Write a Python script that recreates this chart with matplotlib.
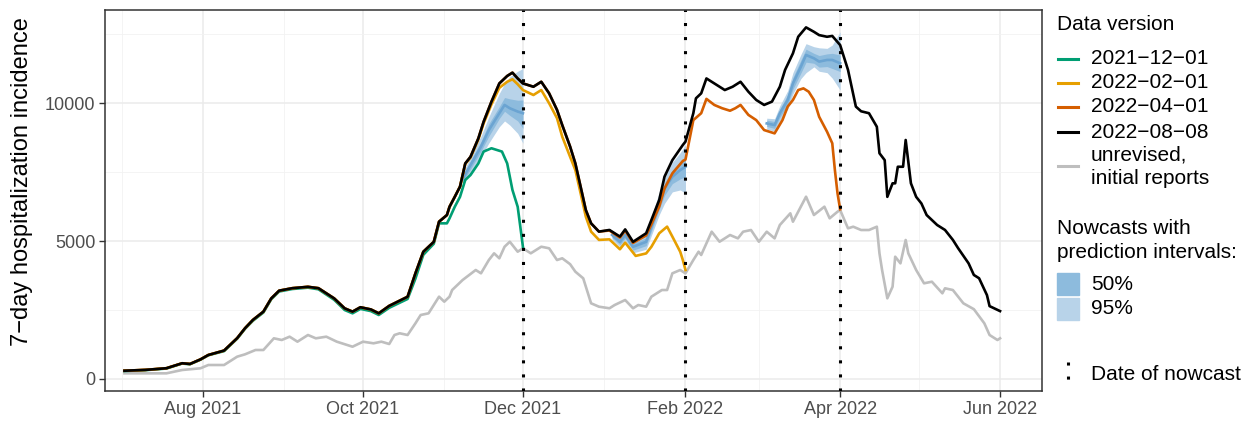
import numpy as np
import pandas as pd
import matplotlib
matplotlib.use("Agg")
import matplotlib.pyplot as plt
import matplotlib.dates as mdates
from matplotlib.lines import Line2D
from matplotlib.patches import Rectangle

plt.rcParams['font.family'] = ['Liberation Sans', 'DejaVu Sans']

# data version 2022-08-08 (final)
final_dates = ["2021-07-02", "2021-07-10", "2021-07-18", "2021-07-24", "2021-07-27", "2021-07-31",
               "2021-08-03", "2021-08-09", "2021-08-14", "2021-08-17", "2021-08-20", "2021-08-24",
               "2021-08-27", "2021-08-30", "2021-09-04", "2021-09-10", "2021-09-14", "2021-09-20",
               "2021-09-24", "2021-09-27", "2021-09-30", "2021-10-04", "2021-10-07", "2021-10-11",
               "2021-10-18", "2021-10-21", "2021-10-24", "2021-10-28", "2021-10-30", "2021-11-02",
               "2021-11-03", "2021-11-05", "2021-11-07", "2021-11-09", "2021-11-11", "2021-11-14",
               "2021-11-16", "2021-11-19", "2021-11-22", "2021-11-25", "2021-11-27", "2021-11-29",
               "2021-12-01", "2021-12-05", "2021-12-08", "2021-12-11", "2021-12-14", "2021-12-16",
               "2021-12-19", "2021-12-21", "2021-12-23", "2021-12-25", "2021-12-27", "2021-12-30",
               "2022-01-03", "2022-01-07", "2022-01-09", "2022-01-12", "2022-01-17", "2022-01-19",
               "2022-01-22", "2022-01-24", "2022-01-27", "2022-01-31", "2022-02-01", "2022-02-04",
               "2022-02-05", "2022-02-07", "2022-02-09", "2022-02-12", "2022-02-16", "2022-02-19",
               "2022-02-22", "2022-02-25", "2022-02-28", "2022-03-03", "2022-03-06", "2022-03-09",
               "2022-03-11", "2022-03-14", "2022-03-16", "2022-03-19", "2022-03-22", "2022-03-24",
               "2022-03-27", "2022-03-29", "2022-04-01", "2022-04-04", "2022-04-07", "2022-04-09",
               "2022-04-12", "2022-04-15", "2022-04-16", "2022-04-18", "2022-04-19", "2022-04-21",
               "2022-04-22", "2022-04-23", "2022-04-25", "2022-04-26", "2022-04-28", "2022-04-30",
               "2022-05-02", "2022-05-04", "2022-05-08", "2022-05-11", "2022-05-14", "2022-05-16",
               "2022-05-20", "2022-05-22", "2022-05-24", "2022-05-27", "2022-05-28", "2022-06-01"]
final_vals = [300, 330, 390, 570, 545, 710,
              870, 1030, 1480, 1840, 2140, 2440,
              2920, 3200, 3290, 3340, 3290, 2920,
              2560, 2440, 2600, 2520, 2380, 2650,
              2980, 3830, 4610, 4970, 5700, 5940,
              6240, 6600, 6970, 7810, 8050, 8720,
              9320, 10050, 10710, 10980, 11100, 10890,
              10710, 10590, 10770, 10350, 9750, 9200,
              8420, 7810, 6970, 6120, 5640, 5340,
              5400, 5160, 5420, 4970, 5280, 5760,
              6490, 7330, 7930, 8480, 8600, 9630,
              10170, 10350, 10890, 10710, 10470, 10590,
              10770, 10410, 10110, 9930, 10050, 10590,
              11200, 11800, 12400, 12740, 12580, 12460,
              12400, 12430, 12100, 11200, 9870, 9700,
              9630, 9140, 8180, 7930, 6600, 7090,
              7090, 7690, 7690, 8660, 7090, 6600,
              6360, 5940, 5580, 5400, 5040, 4740,
              4190, 3770, 3650, 3040, 2640, 2460]

# data version 2021-12-01
v1201_dates = ["2021-07-02", "2021-07-10", "2021-07-18", "2021-07-24", "2021-07-27", "2021-07-31",
               "2021-08-03", "2021-08-09", "2021-08-14", "2021-08-17", "2021-08-20", "2021-08-24",
               "2021-08-27", "2021-08-30", "2021-09-04", "2021-09-10", "2021-09-14", "2021-09-20",
               "2021-09-24", "2021-09-27", "2021-09-30", "2021-10-04", "2021-10-07", "2021-10-11",
               "2021-10-18", "2021-10-21", "2021-10-24", "2021-10-28", "2021-10-30", "2021-11-02",
               "2021-11-03", "2021-11-05", "2021-11-07", "2021-11-09", "2021-11-11", "2021-11-14",
               "2021-11-16", "2021-11-19", "2021-11-22", "2021-11-23", "2021-11-25", "2021-11-27",
               "2021-11-29", "2021-11-30", "2021-12-01"]
v1201_vals = [290, 320, 380, 560, 535, 700,
              860, 1010, 1460, 1820, 2110, 2410,
              2890, 3170, 3260, 3310, 3250, 2870,
              2500, 2380, 2540, 2460, 2320, 2580,
              2900, 3640, 4500, 4900, 5640, 5640,
              5820, 6240, 6600, 7210, 7390, 7810,
              8240, 8360, 8270, 8240, 7810, 6850,
              6240, 5520, 4790]

# data version 2022-02-01
v0201_dates = ["2021-07-02", "2021-07-10", "2021-07-18", "2021-07-24", "2021-07-27", "2021-07-31",
               "2021-08-03", "2021-08-09", "2021-08-14", "2021-08-17", "2021-08-20", "2021-08-24",
               "2021-08-27", "2021-08-30", "2021-09-04", "2021-09-10", "2021-09-14", "2021-09-20",
               "2021-09-24", "2021-09-27", "2021-09-30", "2021-10-04", "2021-10-07", "2021-10-11",
               "2021-10-18", "2021-10-21", "2021-10-24", "2021-10-28", "2021-10-30", "2021-11-02",
               "2021-11-03", "2021-11-05", "2021-11-07", "2021-11-09", "2021-11-11", "2021-11-14",
               "2021-11-16", "2021-11-19", "2021-11-22", "2021-11-25", "2021-11-27", "2021-11-29",
               "2021-12-01", "2021-12-05", "2021-12-08", "2021-12-11", "2021-12-14", "2021-12-16",
               "2021-12-19", "2021-12-21", "2021-12-23", "2021-12-25", "2021-12-27", "2021-12-30",
               "2022-01-03", "2022-01-07", "2022-01-09", "2022-01-13", "2022-01-17", "2022-01-19",
               "2022-01-22", "2022-01-25", "2022-01-27", "2022-01-30", "2022-01-31", "2022-02-01"]
v0201_vals = [300, 330, 390, 570, 545, 710,
              870, 1030, 1480, 1840, 2140, 2440,
              2920, 3200, 3290, 3340, 3290, 2920,
              2560, 2440, 2600, 2520, 2380, 2650,
              2980, 3830, 4610, 4970, 5700, 5940,
              6240, 6600, 6970, 7790, 8020, 8680,
              9260, 9950, 10550, 10770, 10860, 10680,
              10470, 10290, 10470, 9990, 9450, 8780,
              8050, 7570, 6730, 5880, 5340, 5040,
              5060, 4700, 4940, 4460, 4550, 4790,
              5280, 5520, 5160, 4610, 4310, 3950]

# data version 2022-04-01
v0401_dates = ["2021-07-02", "2021-07-10", "2021-07-18", "2021-07-24", "2021-07-27", "2021-07-31",
               "2021-08-03", "2021-08-09", "2021-08-14", "2021-08-17", "2021-08-20", "2021-08-24",
               "2021-08-27", "2021-08-30", "2021-09-04", "2021-09-10", "2021-09-14", "2021-09-20",
               "2021-09-24", "2021-09-27", "2021-09-30", "2021-10-04", "2021-10-07", "2021-10-11",
               "2021-10-18", "2021-10-21", "2021-10-24", "2021-10-28", "2021-10-30", "2021-11-02",
               "2021-11-03", "2021-11-05", "2021-11-07", "2021-11-09", "2021-11-11", "2021-11-14",
               "2021-11-16", "2021-11-19", "2021-11-22", "2021-11-25", "2021-11-27", "2021-11-29",
               "2021-12-01", "2021-12-05", "2021-12-08", "2021-12-11", "2021-12-14", "2021-12-16",
               "2021-12-19", "2021-12-21", "2021-12-23", "2021-12-25", "2021-12-27", "2021-12-30",
               "2022-01-03", "2022-01-07", "2022-01-09", "2022-01-12", "2022-01-17", "2022-01-19",
               "2022-01-22", "2022-01-24", "2022-01-27", "2022-01-31", "2022-02-01", "2022-02-02",
               "2022-02-04", "2022-02-07", "2022-02-09", "2022-02-12", "2022-02-15", "2022-02-18",
               "2022-02-20", "2022-02-22", "2022-02-25", "2022-02-28", "2022-03-03", "2022-03-05",
               "2022-03-07", "2022-03-10", "2022-03-12", "2022-03-14", "2022-03-16", "2022-03-18",
               "2022-03-20", "2022-03-22", "2022-03-24", "2022-03-27", "2022-03-29", "2022-03-30",
               "2022-03-31", "2022-04-01"]
v0401_vals = [300, 330, 390, 570, 545, 710,
              870, 1030, 1480, 1840, 2140, 2440,
              2920, 3200, 3290, 3340, 3290, 2920,
              2560, 2440, 2600, 2520, 2380, 2650,
              2980, 3830, 4610, 4970, 5700, 5940,
              6240, 6600, 6970, 7810, 8050, 8720,
              9320, 10050, 10710, 10980, 11100, 10890,
              10710, 10590, 10770, 10350, 9750, 9200,
              8420, 7810, 6970, 6120, 5640, 5340,
              5380, 5120, 5380, 4930, 5200, 5600,
              6250, 6900, 7450, 7900, 7950, 8420,
              9380, 9630, 10150, 9930, 9810, 9720,
              9810, 9930, 9570, 9380, 9020, 8960,
              8900, 9380, 9870, 10110, 10470, 10530,
              10410, 10110, 9500, 8960, 8540, 7570,
              6730, 6150]

# unrevised, initial reports
init_dates = ["2021-07-02", "2021-07-18", "2021-07-24", "2021-07-31", "2021-08-03", "2021-08-09",
              "2021-08-14", "2021-08-17", "2021-08-21", "2021-08-24", "2021-08-28", "2021-08-31",
              "2021-09-03", "2021-09-06", "2021-09-10", "2021-09-13", "2021-09-17", "2021-09-21",
              "2021-09-27", "2021-10-01", "2021-10-05", "2021-10-08", "2021-10-11", "2021-10-13",
              "2021-10-15", "2021-10-18", "2021-10-21", "2021-10-23", "2021-10-26", "2021-10-30",
              "2021-11-01", "2021-11-03", "2021-11-04", "2021-11-08", "2021-11-13", "2021-11-15",
              "2021-11-18", "2021-11-20", "2021-11-22", "2021-11-24", "2021-11-26", "2021-11-29",
              "2021-12-01", "2021-12-04", "2021-12-06", "2021-12-08", "2021-12-11", "2021-12-14",
              "2021-12-16", "2021-12-19", "2021-12-21", "2021-12-24", "2021-12-27", "2021-12-30",
              "2022-01-03", "2022-01-05", "2022-01-09", "2022-01-12", "2022-01-14", "2022-01-17",
              "2022-01-19", "2022-01-23", "2022-01-25", "2022-01-27", "2022-01-30", "2022-02-01",
              "2022-02-04", "2022-02-06", "2022-02-07", "2022-02-11", "2022-02-14", "2022-02-18",
              "2022-02-21", "2022-02-23", "2022-02-26", "2022-03-01", "2022-03-04", "2022-03-07",
              "2022-03-09", "2022-03-13", "2022-03-14", "2022-03-19", "2022-03-22", "2022-03-26",
              "2022-03-28", "2022-03-31", "2022-04-01", "2022-04-04", "2022-04-06", "2022-04-09",
              "2022-04-12", "2022-04-15", "2022-04-16", "2022-04-17", "2022-04-19", "2022-04-21",
              "2022-04-22", "2022-04-24", "2022-04-26", "2022-04-27", "2022-04-30", "2022-05-03",
              "2022-05-06", "2022-05-10", "2022-05-11", "2022-05-14", "2022-05-18", "2022-05-22",
              "2022-05-26", "2022-05-28", "2022-05-31", "2022-06-01"]
init_vals = [205, 205, 326, 388, 507, 507,
             809, 894, 1051, 1051, 1474, 1413,
             1533, 1352, 1594, 1474, 1533, 1352,
             1170, 1352, 1293, 1352, 1268, 1594,
             1656, 1594, 2018, 2319, 2380, 2982,
             2801, 2982, 3224, 3587, 3949, 3829,
             4311, 4554, 4373, 4793, 4974, 4612,
             4735, 4554, 4674, 4793, 4735, 4311,
             4373, 4160, 3888, 3648, 2743, 2620,
             2562, 2681, 2862, 2562, 2681, 2620,
             2982, 3224, 3224, 3829, 3949, 3829,
             4311, 4612, 4493, 5337, 4974, 5217,
             5096, 5337, 5398, 4974, 5337, 5096,
             5580, 6003, 5699, 6605, 5942, 6243,
             5822, 6061, 6123, 5459, 5518, 5398,
             5398, 5518, 4554, 3949, 2924, 3344,
             4431, 4190, 5036, 4554, 3949, 3467,
             3525, 3105, 3286, 3224, 2743, 2530,
             2018, 1594, 1413, 1474]

# nowcast made on 2021-12-01
nc1_dates = ["2021-11-08", "2021-11-11", "2021-11-15", "2021-11-18", "2021-11-22",
             "2021-11-24", "2021-11-26", "2021-11-29", "2021-12-01"]
nc1_med = [7250, 7750, 8420, 9020, 9630, 9930, 9810, 9690, 9630]
nc1_lo50 = [7150, 7600, 8250, 8800, 9440, 9700, 9550, 9350, 9080]
nc1_hi50 = [7350, 7900, 8600, 9250, 9870, 10200, 10150, 10100, 10110]
nc1_lo95 = [7050, 7450, 8050, 8550, 9140, 9350, 9200, 8900, 8540]
nc1_hi95 = [7450, 8050, 8800, 9500, 10350, 10700, 10950, 11150, 11250]

# nowcast made on 2022-02-01
nc2_dates = ["2022-01-04", "2022-01-07", "2022-01-09", "2022-01-12", "2022-01-17", "2022-01-19",
             "2022-01-22", "2022-01-24", "2022-01-27", "2022-01-30", "2022-02-01"]
nc2_med = [5220, 4970, 5220, 4790, 4970, 5520, 6360, 6900, 7330, 7570, 7690]
nc2_lo50 = [5120, 4870, 5100, 4670, 4830, 5350, 6150, 6650, 7080, 7250, 7330]
nc2_hi50 = [5320, 5080, 5330, 4920, 5120, 5700, 6580, 7100, 7570, 7870, 7930]
nc2_lo95 = [5050, 4780, 5020, 4570, 4700, 5200, 5950, 6360, 6780, 6850, 6730]
nc2_hi95 = [5400, 5160, 5420, 5030, 5250, 5850, 6780, 7300, 7850, 8200, 8480]

# nowcast made on 2022-04-01
nc3_dates = ["2022-03-04", "2022-03-07", "2022-03-09", "2022-03-12", "2022-03-14", "2022-03-17",
             "2022-03-19", "2022-03-22", "2022-03-24", "2022-03-27", "2022-03-29", "2022-04-01"]
nc3_med = [9260, 9200, 9630, 10110, 10710, 11310, 11740, 11620, 11500, 11560, 11560, 11440]
nc3_lo50 = [9150, 9080, 9480, 9930, 10500, 11080, 11480, 11440, 11300, 11320, 11250, 11140]
nc3_hi50 = [9380, 9330, 9780, 10300, 10920, 11550, 11950, 11800, 11720, 11780, 11800, 11740]
nc3_lo95 = [9050, 8980, 9350, 9780, 10330, 10880, 11100, 11310, 11150, 11100, 10900, 10470]
nc3_hi95 = [9450, 9430, 9900, 10450, 11100, 11750, 12150, 12040, 12000, 11980, 12100, 12580]

nowcast_days = ["2021-12-01", "2022-02-01", "2022-04-01"]

version_labels = ["2021\u221212\u221201", "2022\u221202\u221201", "2022\u221204\u221201",
                  "2022\u221208\u221208", "unrevised,\ninitial reports"]
version_colors = ["#009E73", "#E69F00", "#D55E00", "black", "#BEBEBE"]

col50 = "#8DBBDD"
col95 = "#B8D3E9"
colmed = "#6BA4D2"

LW = 1.9
W, H = 1246, 424
fig = plt.figure(figsize=(W / 100, H / 100), dpi=100)
ax = fig.add_axes([105 / W, 1 - 391 / H, (1042 - 105) / W, (391 - 10) / H])

d = pd.to_datetime

ax.plot(d(init_dates), init_vals, color=version_colors[4], lw=LW, zorder=2)

for nd, med, lo50, hi50, lo95, hi95 in [
        (nc1_dates, nc1_med, nc1_lo50, nc1_hi50, nc1_lo95, nc1_hi95),
        (nc2_dates, nc2_med, nc2_lo50, nc2_hi50, nc2_lo95, nc2_hi95),
        (nc3_dates, nc3_med, nc3_lo50, nc3_hi50, nc3_lo95, nc3_hi95)]:
    ax.fill_between(d(nd), lo95, hi95, color=col95, lw=0, zorder=3)
    ax.fill_between(d(nd), lo50, hi50, color=col50, lw=0, zorder=3)
    ax.plot(d(nd), med, color=colmed, lw=LW, zorder=3)

ax.plot(d(v1201_dates), v1201_vals, color=version_colors[0], lw=LW, zorder=4)
ax.plot(d(v0201_dates), v0201_vals, color=version_colors[1], lw=LW, zorder=4)
ax.plot(d(v0401_dates), v0401_vals, color=version_colors[2], lw=LW, zorder=4)
ax.plot(d(final_dates), final_vals, color=version_colors[3], lw=LW, zorder=5)

for nd in nowcast_days:
    ax.axvline(d(nd), color="black", lw=2.2, linestyle=(0, (1, 3.6)), zorder=6)

ax.set_xlim(mdates.date2num(d("2021-06-24 14:00")), mdates.date2num(d("2022-06-17")))
ax.set_ylim(-435, 13370)

major_x = d(["2021-08-01", "2021-10-01", "2021-12-01", "2022-02-01", "2022-04-01", "2022-06-01"])
minor_x = d(["2021-07-01", "2021-09-01", "2021-11-01", "2022-01-01", "2022-03-01", "2022-05-01"])
ax.set_xticks(major_x)
ax.set_xticklabels(["Aug 2021", "Oct 2021", "Dec 2021", "Feb 2022", "Apr 2022", "Jun 2022"])
ax.set_xticks(minor_x, minor=True)
ax.set_yticks([0, 5000, 10000])
ax.set_yticks([2500, 7500, 12500], minor=True)

ax.grid(True, which="major", color="#EBEBEB", lw=1.1, zorder=0)
ax.grid(True, which="minor", color="#F2F2F2", lw=0.6, zorder=0)
ax.set_axisbelow(True)
ax.tick_params(which="major", length=4, width=1, color="#333333", labelcolor="#4D4D4D",
               labelsize=13, pad=3)
ax.tick_params(which="minor", length=0)
for s in ax.spines.values():
    s.set_color("#333333")
    s.set_linewidth(1.1)

fig.text(22 / W, 1 - 182 / H, "7\u2212day hospitalization incidence", rotation=90,
         ha="center", va="center", fontsize=17)

# legend drawn by hand in figure pixels
def fx(x):
    return x / W

def fy(y):
    return 1 - y / H

fs = 15
fig.text(fx(1057), fy(25), "Data version", fontsize=fs, va="center", ha="left")
line_ys = [59, 83, 107, 132, 166]
for lab, col, yy in zip(version_labels, version_colors, line_ys):
    fig.add_artist(Line2D([fx(1058), fx(1078)], [fy(yy), fy(yy)], color=col, lw=2.2))
    if "\n" in lab:
        l1, l2 = lab.split("\n")
        fig.text(fx(1091), fy(155), l1, fontsize=fs, va="center", ha="left")
        fig.text(fx(1091), fy(179), l2, fontsize=fs, va="center", ha="left")
    else:
        fig.text(fx(1091), fy(yy), lab, fontsize=fs, va="center", ha="left")

fig.text(fx(1057), fy(229), "Nowcasts with", fontsize=fs, va="center", ha="left")
fig.text(fx(1057), fy(252), "prediction intervals:", fontsize=fs, va="center", ha="left")
for lab, col, yy in [("50%", col50, 284), ("95%", col95, 309)]:
    fig.add_artist(Rectangle((fx(1057), fy(yy + 11)), fx(22), 22 / H, color=col,
                             transform=fig.transFigure))
    fig.text(fx(1091), fy(yy), lab, fontsize=fs, va="center", ha="left")

fig.add_artist(Line2D([fx(1068), fx(1068)], [fy(362), fy(388)], color="black", lw=2.2,
                      linestyle=(0, (1, 3.6))))
fig.text(fx(1091), fy(375), "Date of nowcast", fontsize=fs, va="center", ha="left")

fig.savefig("out.png", dpi=100)
